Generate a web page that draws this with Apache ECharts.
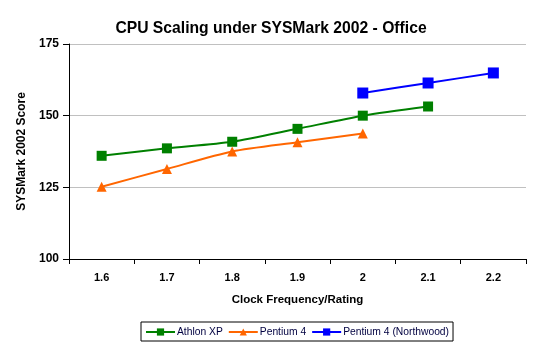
<!DOCTYPE html>
<html><head><meta charset="utf-8">
<script src="https://cdn.jsdelivr.net/npm/echarts@6/dist/echarts.min.js"></script>
<style>html,body{margin:0;padding:0;background:#fff}#c{width:542px;height:352px}</style>
</head><body><div id="c"></div>
<script>
var categories = ['1.6','1.7','1.8','1.9','2','2.1','2.2'];
var athlonXP = [136.0, 138.6, 140.9, 145.4, 150.0, 153.2, null];
var pentium4 = [125.2, 131.4, 137.5, 140.7, 143.8, null, null];
var pentium4NW = [null, null, null, null, 157.9, 161.4, 164.9];
var yTicks = [100, 125, 150, 175];

var chart = echarts.init(document.getElementById('c'));
var font = 'Arial, "Liberation Sans", sans-serif';
chart.setOption({
  animation: false,
  title: {
    text: 'CPU Scaling under SYSMark 2002 - Office',
    left: 'center', top: 16,
    textStyle: {fontFamily: font, fontSize: 15.7, fontWeight: 'bold', color: '#000'}
  },
  grid: {left: 69, right: 16, top: 44, bottom: 93, containLabel: false},
  legend: {
    left: 141, top: 322,
    padding: [5, 4, 4, 4],
    itemGap: 5, itemWidth: 29, itemHeight: 9,
    borderColor: '#000', borderWidth: 1, backgroundColor: '#fff',
    textStyle: {fontFamily: font, fontSize: 10.3, color: '#000040', padding: [0,0,0,-3]},
    data: ['Athlon XP', 'Pentium 4', 'Pentium 4 (Northwood)']
  },
  xAxis: {
    type: 'category', data: categories, boundaryGap: true,
    name: 'Clock Frequency/Rating', nameLocation: 'middle', nameGap: 35,
    nameTextStyle: {fontFamily: font, fontSize: 11.5, fontWeight: 'bold', color: '#000'},
    axisLine: {lineStyle: {color: '#000', width: 1}},
    axisTick: {show: true, inside: false, length: 5, lineStyle: {color: '#000'}},
    axisLabel: {fontFamily: font, fontSize: 11, fontWeight: 'bold', color: '#000', margin: 13},
    splitLine: {show: false}
  },
  yAxis: {
    type: 'value', min: yTicks[0], max: yTicks[yTicks.length-1], interval: 25,
    name: 'SYSMark 2002 Score', nameLocation: 'middle', nameGap: 38, nameRotate: 90,
    nameTextStyle: {fontFamily: font, fontSize: 12, fontWeight: 'bold', color: '#000'},
    axisLine: {show: true, lineStyle: {color: '#000', width: 1}},
    axisTick: {show: true, inside: false, length: 6, lineStyle: {color: '#000'}},
    axisLabel: {fontFamily: font, fontSize: 12, fontWeight: 'bold', color: '#000', margin: 10},
    splitLine: {show: true, lineStyle: {color: '#c0c0c0', width: 1}}
  },
  series: [
    {name: 'Athlon XP', type: 'line', data: athlonXP, smooth: 0.25,
     symbol: 'rect', symbolSize: 10, showSymbol: true,
     lineStyle: {color: '#008000', width: 2}, itemStyle: {color: '#008000'}},
    {name: 'Pentium 4', type: 'line', data: pentium4, smooth: 0.25,
     symbol: 'triangle', symbolSize: 10,
     lineStyle: {color: '#ff6600', width: 2}, itemStyle: {color: '#ff6600'}},
    {name: 'Pentium 4 (Northwood)', type: 'line', data: pentium4NW, smooth: 0.25,
     symbol: 'rect', symbolSize: 11,
     lineStyle: {color: '#0000ff', width: 2}, itemStyle: {color: '#0000ff'}}
  ]
});
</script></body></html>
